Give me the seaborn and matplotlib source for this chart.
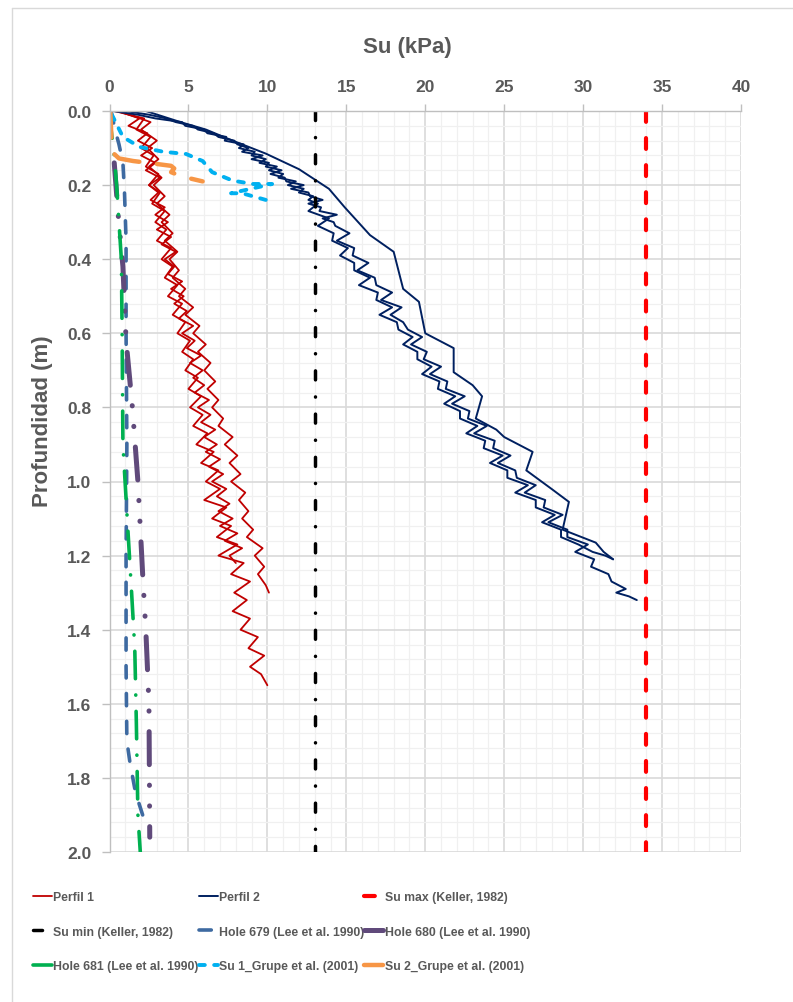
import matplotlib
matplotlib.use("Agg")
import matplotlib.pyplot as plt
from matplotlib.ticker import MultipleLocator, FormatStrFormatter
from matplotlib.lines import Line2D
import pandas as pd
import seaborn as sns

# ---------------- data ----------------
# Perfil 1 (three soundings)
p1a_depth = [0.00, 0.02, 0.05, 0.07, 0.10, 0.12, 0.15, 0.17, 0.20, 0.22, 0.25, 0.27, 0.30, 0.32, 0.35, 0.37,
             0.40, 0.42, 0.45, 0.47, 0.50, 0.52, 0.55, 0.57, 0.60, 0.62, 0.65, 0.67, 0.70, 0.72, 0.75, 0.77,
             0.80, 0.82, 0.85, 0.87, 0.90, 0.92, 0.95, 0.97, 1.00, 1.02, 1.05, 1.07, 1.10, 1.12, 1.15, 1.17,
             1.20, 1.22, 1.25, 1.27, 1.30, 1.32, 1.35, 1.37, 1.40, 1.42, 1.45, 1.47, 1.50, 1.52, 1.55]
p1a_su = [0.3, 2.2, 1.7, 2.6, 2.0, 2.8, 2.3, 3.1, 2.5, 3.2, 2.7, 3.5, 2.9, 3.6, 3.0, 3.9,
          3.3, 4.0, 3.5, 4.3, 3.7, 4.6, 4.0, 4.8, 4.3, 5.1, 4.6, 5.3, 4.8, 5.6, 5.0, 5.8,
          5.1, 5.9, 5.3, 6.2, 5.5, 6.6, 5.8, 6.9, 6.1, 7.0, 6.0, 7.4, 6.5, 7.7, 6.8, 8.1,
          6.9, 8.5, 7.7, 8.9, 7.9, 8.7, 7.8, 8.9, 8.3, 9.4, 8.8, 9.8, 8.9, 9.6, 10.0]
p1b_depth = [0.00, 0.03, 0.05, 0.08, 0.10, 0.13, 0.15, 0.18, 0.20, 0.23, 0.25, 0.28, 0.30, 0.33, 0.35, 0.38,
             0.40, 0.43, 0.45, 0.48, 0.50, 0.53, 0.55, 0.58, 0.60, 0.63, 0.65, 0.68, 0.70, 0.73, 0.75, 0.78,
             0.80, 0.83, 0.85, 0.88, 0.90, 0.93, 0.95, 0.98, 1.00, 1.03, 1.05, 1.08, 1.10, 1.13, 1.15, 1.18,
             1.20, 1.23, 1.25, 1.28, 1.30]
p1b_su = [0.6, 2.6, 2.0, 3.0, 2.4, 3.1, 2.5, 3.3, 2.8, 3.5, 3.0, 3.8, 3.3, 4.0, 3.5, 4.3,
          3.8, 4.4, 4.0, 4.8, 4.4, 5.3, 4.8, 5.7, 5.3, 6.1, 5.6, 6.4, 6.0, 6.7, 6.2, 6.9,
          6.5, 7.2, 6.9, 7.8, 7.3, 8.1, 7.6, 8.3, 7.7, 8.6, 8.2, 8.8, 8.4, 9.1, 8.7, 9.7,
          9.2, 9.8, 9.4, 9.9, 10.1]
p1c_depth = [0.00, 0.02, 0.04, 0.06, 0.08, 0.10, 0.12, 0.14, 0.16, 0.18, 0.20, 0.22, 0.24, 0.26, 0.28, 0.30,
             0.32, 0.34, 0.36, 0.38, 0.40, 0.42, 0.44, 0.46, 0.48, 0.50, 0.52, 0.54, 0.56, 0.58, 0.60, 0.62,
             0.64, 0.66, 0.68, 0.70, 0.72, 0.74, 0.76, 0.78, 0.80, 0.82, 0.84, 0.86, 0.88, 0.90, 0.92, 0.94,
             0.96, 0.98, 1.00, 1.02, 1.04, 1.06, 1.08, 1.10, 1.12, 1.14, 1.16, 1.18, 1.20, 1.22]
p1c_su = [0.5, 1.9, 1.2, 2.4, 1.8, 2.7, 2.0, 2.9, 2.3, 3.2, 2.5, 3.1, 2.6, 3.5, 2.9, 3.7,
          3.0, 3.9, 3.3, 4.2, 3.5, 4.1, 3.7, 4.6, 3.9, 4.7, 4.1, 4.9, 4.4, 5.3, 4.6, 5.4,
          4.9, 5.8, 5.1, 5.9, 5.3, 6.0, 5.4, 6.3, 5.6, 6.4, 5.8, 6.7, 6.0, 6.8, 6.1, 7.0,
          6.3, 7.2, 6.5, 7.4, 6.8, 7.6, 6.9, 7.8, 7.0, 8.1, 7.3, 8.4, 7.6, 8.0]

# Perfil 2 (three soundings)
p2c_depth = [0.00, 0.03, 0.05, 0.08, 0.115, 0.157, 0.21, 0.26, 0.335, 0.38, 0.48, 0.515, 0.60, 0.64,
             0.705, 0.74, 0.77, 0.83, 0.86, 0.88, 0.92, 0.97, 1.02, 1.055, 1.13, 1.165, 1.19, 1.21]
p2c_su = [2.3, 4.5, 6.1, 7.8, 9.9, 12.0, 13.9, 14.9, 16.5, 18.0, 18.6, 19.6, 20.0, 21.8,
          21.8, 23.0, 23.6, 23.2, 24.5, 25.0, 26.8, 26.4, 28.0, 29.1, 28.7, 30.8, 31.3, 31.9]
p2d_depth = [0.00, 0.01, 0.02, 0.03, 0.04, 0.05, 0.06, 0.07, 0.08, 0.09, 0.10, 0.11, 0.12, 0.13, 0.14, 0.15,
             0.16, 0.17, 0.18, 0.19, 0.20, 0.21, 0.22, 0.23, 0.24, 0.25, 0.26, 0.27, 0.28, 0.29, 0.30, 0.31,
             0.33, 0.35, 0.37, 0.39, 0.41, 0.43, 0.45, 0.47, 0.49, 0.51, 0.53, 0.55, 0.57, 0.59, 0.61, 0.63,
             0.65, 0.67, 0.69, 0.71, 0.73, 0.75, 0.77, 0.79, 0.81, 0.83, 0.85, 0.87, 0.89, 0.91, 0.93, 0.95,
             0.97, 0.99, 1.01, 1.03, 1.05, 1.07, 1.09, 1.11, 1.13, 1.15, 1.17, 1.19, 1.21, 1.23, 1.25, 1.27,
             1.29, 1.30, 1.31, 1.32]
p2d_su = [1.0, 2.5, 3.6, 4.2, 5.3, 5.6, 6.6, 6.9, 7.9, 8.1, 8.8, 8.4, 9.7, 9.0, 10.1, 9.9,
          10.9, 10.2, 11.1, 11.2, 12.3, 11.5, 12.6, 12.7, 13.5, 12.6, 13.4, 13.3, 14.4, 13.5, 14.2, 14.3,
          15.2, 14.4, 15.5, 15.4, 16.4, 15.7, 16.8, 16.9, 17.9, 17.2, 18.5, 17.8, 18.6, 18.9, 19.8, 19.1,
          20.1, 19.9, 21.0, 20.3, 21.4, 21.3, 22.5, 21.7, 22.8, 22.7, 23.9, 23.1, 24.4, 24.3, 25.4, 24.6,
          25.7, 25.8, 27.0, 26.3, 27.6, 27.5, 28.7, 27.8, 29.0, 29.0, 30.3, 29.5, 30.7, 30.5, 31.6, 31.8,
          32.7, 32.1, 32.9, 33.4]
p2e_depth = [0.00, 0.01, 0.02, 0.03, 0.04, 0.05, 0.06, 0.07, 0.08, 0.09, 0.10, 0.11, 0.12, 0.13, 0.14, 0.15,
             0.16, 0.17, 0.18, 0.19, 0.20, 0.21, 0.22, 0.23, 0.24, 0.25,
             0.27, 0.29, 0.31, 0.33, 0.35, 0.37, 0.39, 0.41, 0.43, 0.45, 0.47, 0.49, 0.51, 0.53, 0.55, 0.57,
             0.59, 0.61, 0.63, 0.65, 0.67, 0.69, 0.71, 0.73, 0.75, 0.77, 0.79, 0.81, 0.83, 0.85, 0.87, 0.89,
             0.91, 0.93, 0.95, 0.97, 0.99, 1.01, 1.03, 1.05, 1.07, 1.09, 1.11, 1.13, 1.15, 1.17, 1.19,
             1.20, 1.21]
p2e_su = [0.2, 1.8, 2.9, 4.6, 4.8, 6.0, 6.2, 7.4, 7.3, 8.5, 8.2, 9.2, 9.0, 9.9, 9.5, 10.6,
          10.1, 11.0, 10.7, 11.8, 11.3, 12.3, 12.0, 12.9, 12.6, 13.2,
          12.6, 13.9, 13.2, 14.2, 14.1, 15.1, 14.6, 15.5, 15.5, 16.5, 15.8, 17.0, 16.9, 17.9, 17.1, 18.2,
          18.3, 19.2, 18.6, 19.5, 19.5, 20.4, 19.8, 20.9, 20.8, 21.9, 21.2, 22.2, 22.2, 23.3, 22.6, 23.8,
          23.7, 24.9, 24.1, 25.2, 25.2, 26.5, 25.7, 27.0, 27.0, 28.2, 27.4, 28.6, 28.6, 29.7, 30.6,
          31.4, 31.9]

# Keller (1982) limits
sumax_depth = [0.0, 2.0]
sumax_su = [34.0, 34.0]
sumin_depth = [0.0, 2.0]
sumin_su = [13.0, 13.0]

# Lee et al. (1990)
h679_depth = [0.0, 0.05, 0.09, 0.14, 0.22, 0.35, 0.6, 0.9, 1.2, 1.5, 1.7, 1.76, 1.84, 1.90]
h679_su = [0.1, 0.35, 0.6, 0.85, 0.95, 1.05, 1.05, 1.1, 1.05, 1.05, 1.1, 1.3, 1.65, 2.1]
h680_depth = [0.14, 0.28, 0.42, 0.62, 0.8, 1.0, 1.25, 1.4, 1.6, 1.96]
h680_su = [0.3, 0.55, 0.85, 1.05, 1.45, 1.8, 2.1, 2.3, 2.5, 2.55]
h681_depth = [0.0, 0.05, 0.12, 0.2, 0.3, 0.4, 0.6, 0.9, 1.12, 1.3, 1.45, 1.65, 1.9, 2.0]
h681_su = [0.0, 0.1, 0.3, 0.45, 0.6, 0.75, 0.8, 0.85, 1.15, 1.4, 1.6, 1.7, 1.8, 1.95]

# Grupe et al. (2001)
gr1_depth = [0.01, 0.07, 0.097, 0.11, 0.116, 0.135, 0.165, 0.188, 0.197, 0.197, 0.222, 0.222, 0.24]
gr1_su = [0.15, 0.85, 1.9, 3.4, 4.85, 5.9, 6.5, 7.8, 9.1, 10.3, 7.7, 8.4, 9.9]
gr2_depth = [0.0, 0.05, 0.11, 0.128, 0.135, 0.143, 0.148, 0.155, 0.165, 0.172, 0.182, 0.19]
gr2_su = [0.05, 0.1, 0.15, 0.6, 1.5, 3.0, 3.9, 4.1, 3.9, 4.3, 5.1, 5.9]

x_ticks = [0, 5, 10, 15, 20, 25, 30, 35, 40]
y_ticks = [0.0, 0.2, 0.4, 0.6, 0.8, 1.0, 1.2, 1.4, 1.6, 1.8, 2.0]


def frame(*traces):
    parts = []
    for i, (su, d) in enumerate(traces):
        parts.append(pd.DataFrame({"su": su, "depth": d, "trace": i}))
    return pd.concat(parts, ignore_index=True)


# ---------------- style ----------------
sns.set_theme(style="white")
plt.rcParams["font.family"] = ["Liberation Sans", "DejaVu Sans"]
plt.rcParams["font.weight"] = "bold"

GRAY = "#595959"

fig = plt.figure(figsize=(7.93, 10.03), dpi=100)
ax = fig.add_axes([109.5 / 793, 1 - 853 / 1003, (741 - 109.5) / 793, (853 - 112) / 1003])

series = [
    ("Perfil 1", frame((p1a_su, p1a_depth), (p1b_su, p1b_depth), (p1c_su, p1c_depth)),
     dict(color="#C00000", lw=1.3, linestyle="-")),
    ("Perfil 2", frame((p2c_su, p2c_depth), (p2d_su, p2d_depth), (p2e_su, p2e_depth)),
     dict(color="#002060", lw=1.4, linestyle="-")),
    ("Su max (Keller, 1982)", frame((sumax_su, sumax_depth)),
     dict(color="#FF0000", lw=3.0, linestyle=(0, (2.6, 3.9)), dash_capstyle="round")),
    ("Su min (Keller, 1982)", frame((sumin_su, sumin_depth)),
     dict(color="#000000", lw=2.5, linestyle=(0, (2.6, 4.9, 0.05, 4.9)), dash_capstyle="round")),
    ("Hole 679 (Lee et al. 1990)", frame((h679_su, h679_depth)),
     dict(color="#3E6AA1", lw=2.6, linestyle=(0, (3.4, 4.3)), dash_capstyle="round")),
    ("Hole 680 (Lee et al. 1990)", frame((h680_su, h680_depth)),
     dict(color="#604A7B", lw=3.6, linestyle=(0, (6.6, 4.1, 0.05, 4.1, 0.05, 4.1)), dash_capstyle="round")),
    ("Hole 681 (Lee et al. 1990)", frame((h681_su, h681_depth)),
     dict(color="#00B050", lw=2.6, linestyle=(0, (7.6, 4.5, 0.05, 4.5)), dash_capstyle="round")),
    ("Su 1_Grupe et al. (2001)", frame((gr1_su, gr1_depth)),
     dict(color="#00B0F0", lw=2.8, linestyle=(0, (1.5, 2.4)), dash_capstyle="round")),
    ("Su 2_Grupe et al. (2001)", frame((gr2_su, gr2_depth)),
     dict(color="#F79646", lw=3.2, linestyle=(0, (6.0, 4.0)), dash_capstyle="round")),
]

handles = {}
for label, df, kw in series:
    sns.lineplot(data=df, x="su", y="depth", units="trace", estimator=None, sort=False,
                 ax=ax, legend=False, **kw)
    handles[label] = ax.lines[-1]

# axes
ax.set_xlim(0, 40)
ax.set_ylim(2.0, 0.0)
ax.set_xticks(x_ticks)
ax.set_yticks(y_ticks)
ax.xaxis.set_minor_locator(MultipleLocator(1))
ax.yaxis.set_minor_locator(MultipleLocator(0.04))
ax.yaxis.set_major_formatter(FormatStrFormatter("%.1f"))
ax.xaxis.tick_top()
ax.set_xlabel("")
ax.set_ylabel("")
ax.grid(which="major", color="#D9D9D9", lw=1.2)
ax.grid(which="minor", color="#F0F0F0", lw=0.9)
ax.set_axisbelow(True)
for s in ["right", "bottom"]:
    ax.spines[s].set_visible(False)
for s in ["top", "left"]:
    ax.spines[s].set_color("#BFBFBF")
    ax.spines[s].set_linewidth(1.0)
ax.tick_params(axis="x", which="major", top=True, bottom=False, length=5, width=1,
               color="#BFBFBF", labelsize=12.5, labelcolor=GRAY, pad=7)
ax.tick_params(axis="y", which="major", left=True, length=6, width=1,
               color="#BFBFBF", labelsize=12.5, labelcolor=GRAY, pad=7)
ax.tick_params(which="minor", length=0)
for t in ax.get_xticklabels() + ax.get_yticklabels():
    t.set_fontweight("bold")

fig.text(407 / 793, 1 - 47 / 1003, "Su (kPa)", ha="center", va="center",
         fontsize=16, fontweight="bold", color=GRAY)
fig.text(43 / 793, 1 - 421 / 1003, "Profundidad (m)", ha="center", va="center",
         rotation=90, fontsize=16, fontweight="bold", color=GRAY)

# legend (row-wise order like the reference -> column-major input)
order = ["Perfil 1", "Su min (Keller, 1982)", "Hole 681 (Lee et al. 1990)",
         "Perfil 2", "Hole 679 (Lee et al. 1990)", "Su 1_Grupe et al. (2001)",
         "Su max (Keller, 1982)", "Hole 680 (Lee et al. 1990)", "Su 2_Grupe et al. (2001)"]
leg = fig.legend([handles[k] for k in order], order, ncol=3, loc="upper left",
                 bbox_to_anchor=(33 / 793, 1 - 892 / 1003), bbox_transform=fig.transFigure,
                 frameon=False, borderpad=0, borderaxespad=0, handlelength=1.55,
                 handletextpad=0.12, columnspacing=0.0, labelspacing=1.85,
                 prop={"size": 8.8, "weight": "bold"})
for t in leg.get_texts():
    t.set_color(GRAY)

# chart-area border
fig.add_artist(Line2D([12 / 793, 12 / 793], [0, 1 - 9 / 1003], transform=fig.transFigure,
                      color="#D9D9D9", lw=1))
fig.add_artist(Line2D([12 / 793, 1], [1 - 9 / 1003, 1 - 9 / 1003], transform=fig.transFigure,
                      color="#D9D9D9", lw=1))

fig.savefig("out.png", dpi=100, facecolor="white")
